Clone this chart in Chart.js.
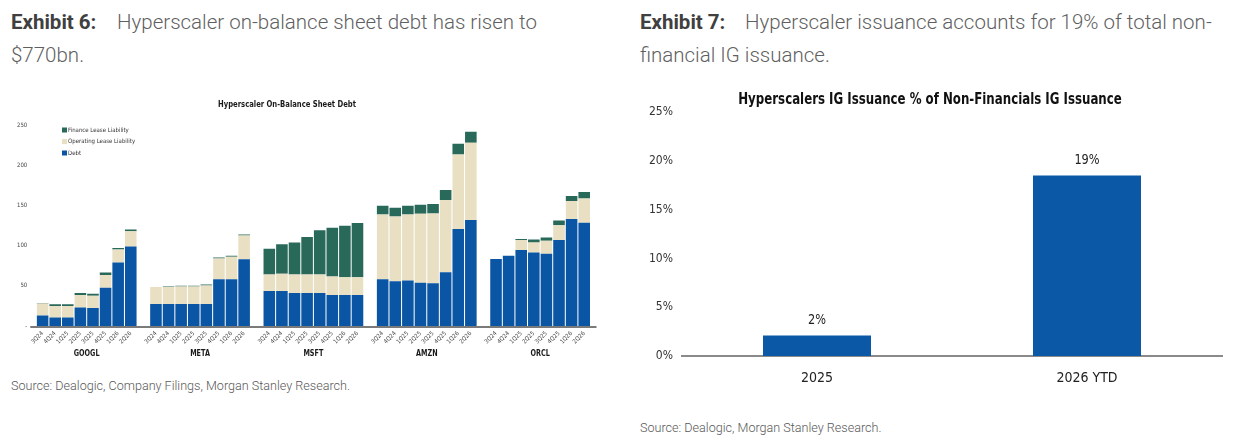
<!DOCTYPE html>
<html>
<head>
<meta charset="utf-8">
<script src="https://cdn.jsdelivr.net/npm/chart.js@4.4.1/dist/chart.umd.min.js"></script>
<style>
  html, body { margin:0; padding:0; background:#fff; width:1242px; height:439px; overflow:hidden; }
  body { position:relative; font-family: Roboto, 'Noto Sans', sans-serif; }
  .hdr { position:absolute; font-size:20.5px; line-height:33px; color:#5f5f5f; font-weight:300; white-space:nowrap; }
  .hdr b { font-weight:700; color:#404040; display:inline-block; }
  .src { position:absolute; font-size:12.6px; color:#595959; font-weight:300; white-space:nowrap; }
  #c1wrap { position:absolute; left:0; top:90px; width:610px; height:280px; }
  #c2wrap { position:absolute; left:640px; top:80px; width:602px; height:320px; }
</style>
</head>
<body>
<div class="hdr" style="left:11px; top:6px;"><b style="width:106px">Exhibit 6:</b>Hyperscaler on-balance sheet debt has risen to<br>$770bn.</div>
<div class="hdr" style="left:640px; top:6px;"><b style="width:105px">Exhibit 7:</b>Hyperscaler issuance accounts for 19% of total non-<br>financial IG issuance.</div>
<div class="src" style="left:11px; top:378px;">Source: Dealogic, Company Filings, Morgan Stanley Research.</div>
<div class="src" style="left:640px; top:420px;">Source: Dealogic, Morgan Stanley Research.</div>
<div id="c1wrap"><canvas id="c1"></canvas></div>
<div id="c2wrap"><canvas id="c2"></canvas></div>
<script>
// ---------- Exhibit 6 data ----------
const quarters = ['3Q24','4Q24','1Q25','2Q25','3Q25','4Q25','1Q26','2Q26'];
const companies = ['GOOGL','META','MSFT','AMZN','ORCL'];
const yTicks1 = [0, 50, 100, 150, 200, 250];

const googlDebt    = [13, 10.5, 10.5, 23, 22.5, 47.5, 79, 99];
const googlOpLease = [15, 14.5, 14.5, 15.5, 15, 16, 16, 19];
const googlFinLease= [0.5, 2, 2, 2.5, 2.5, 3, 2, 2];

const metaDebt     = [27.5, 27.5, 27.5, 27.5, 27.5, 58, 58, 83];
const metaOpLease  = [21, 21, 21.5, 21.5, 23, 26, 28, 29.5];
const metaFinLease = [0, 0.7, 1, 1, 1, 1.3, 1.4, 1.4];

const msftDebt     = [43.5, 43.5, 41, 41, 41, 38.5, 38.5, 38.5];
const msftOpLease  = [20.5, 21.5, 23, 23, 23, 23, 22, 22];
const msftFinLease = [32, 36.7, 39.8, 46.8, 55, 60.7, 64.2, 67.5];

const amznDebt     = [58.3, 55.8, 56.7, 53.8, 53.3, 66.7, 120.8, 131.7];
const amznOpLease  = [80.5, 80.5, 82, 85.8, 86.7, 90, 92.5, 96.3];
const amznFinLease = [10.8, 10.8, 10.9, 11.2, 11.7, 12.3, 13.4, 13.7];

const orclDebt     = [83.3, 87.5, 94.6, 91.3, 90, 107, 133, 128.3];
const orclOpLease  = [0, 0, 12.4, 12.7, 16, 18.4, 22.4, 30.4];
const orclFinLease = [0, 0, 1.3, 3.5, 4, 5.8, 6.3, 8];

// ---------- Exhibit 7 data ----------
const years = ['2025', '2026 YTD'];
const issuanceShare = [2.1, 18.5];
const yTicks2 = [0, 5, 10, 15, 20, 25];

// ---------- build grouped category axis (gap slot between companies) ----------
function joinGroups(arrs) {
  const out = [];
  arrs.forEach((a, i) => { if (i > 0) out.push(null); a.forEach(v => out.push(v)); });
  return out;
}
const labels1 = joinGroups(companies.map(() => quarters)).map(v => v === null ? '' : v);
const debtAll = joinGroups([googlDebt, metaDebt, msftDebt, amznDebt, orclDebt]);
const opAll   = joinGroups([googlOpLease, metaOpLease, msftOpLease, amznOpLease, orclOpLease]);
const finAll  = joinGroups([googlFinLease, metaFinLease, msftFinLease, amznFinLease, orclFinLease]);

const BLUE = '#0b56a4', TAN = '#e9e0c3', GREEN = '#29695a';
const NARROW = "'Liberation Sans Narrow', 'DejaVu Sans Condensed', 'Roboto Condensed', 'DejaVu Sans', sans-serif";

function condensedText(ctx, text, x, y, sx) {
  ctx.save();
  ctx.translate(x, y);
  ctx.scale(sx, 1);
  ctx.fillText(text, 0, 0);
  ctx.restore();
}

const ex6Plugin = {
  id: 'ex6',
  beforeDatasetsDraw(chart) {
    const ctx = chart.ctx, area = chart.chartArea;
    ctx.save();
    ctx.strokeStyle = '#7a7a7a';
    ctx.lineWidth = 2;
    ctx.beginPath();
    ctx.moveTo(area.left - 6, area.bottom + 1);
    ctx.lineTo(area.right + 6, area.bottom + 1);
    ctx.stroke();
    ctx.restore();
  },
  afterDraw(chart) {
    const ctx = chart.ctx, x = chart.scales.x, area = chart.chartArea;
    ctx.save();
    ctx.fillStyle = '#1a1a1a';
    ctx.font = "bold 8px " + NARROW;
    ctx.textAlign = 'center'; ctx.textBaseline = 'middle';
    condensedText(ctx, 'Hyperscaler On-Balance Sheet Debt', 287, 15, 0.95);
    companies.forEach((c, g) => {
      const s = g * 9, e = s + 7;
      const cx = (x.getPixelForValue(s) + x.getPixelForValue(e)) / 2;
      condensedText(ctx, c, cx, area.bottom + 28, 0.9);
    });
    const items = [...chart.data.datasets].reverse();
    ctx.font = "6px " + NARROW;
    ctx.textAlign = 'left';
    items.forEach((ds, i) => {
      const y = 40 + i * 11.5;
      ctx.fillStyle = ds.backgroundColor;
      ctx.fillRect(62, y - 2.5, 5, 5);
      ctx.fillStyle = '#333';
      ctx.fillText(ds.label, 68, y);
    });
    ctx.restore();
  }
};

new Chart(document.getElementById('c1'), {
  type: 'bar',
  data: {
    labels: labels1,
    datasets: [
      { label: 'Debt', data: debtAll, backgroundColor: BLUE },
      { label: 'Operating Lease Liability', data: opAll, backgroundColor: TAN },
      { label: 'Finance Lease Liability', data: finAll, backgroundColor: GREEN }
    ]
  },
  options: {
    responsive: true, maintainAspectRatio: false, animation: false,
    layout: { padding: { top: 35, right: 19.5, left: 0, bottom: 0 } },
    datasets: { bar: { barPercentage: 0.92, categoryPercentage: 1.0 } },
    plugins: { legend: { display: false }, tooltip: { enabled: false }, title: { display: false } },
    scales: {
      x: {
        stacked: true, offset: true,
        grid: { display: false, drawTicks: false },
        border: { display: false },
        ticks: { autoSkip: false, minRotation: 45, maxRotation: 45, padding: 4,
                 font: { size: 6, family: NARROW }, color: '#444' },
        afterFit(s) { s.height = 44; }
      },
      y: {
        stacked: true, min: 0, max: 250,
        afterBuildTicks(s) { s.ticks = yTicks1.map(v => ({ value: v })); },
        grid: { display: false, drawTicks: false },
        border: { display: false },
        ticks: { padding: 9, font: { size: 6, family: NARROW }, color: '#444',
                 callback: v => v === 0 ? '-' : v },
        afterFit(s) { s.width = 36.3; }
      }
    }
  },
  plugins: [ex6Plugin]
});

// ---------- Exhibit 7 chart ----------
const ex7Plugin = {
  id: 'ex7',
  afterDraw(chart) {
    const ctx = chart.ctx;
    ctx.save();
    ctx.fillStyle = '#111';
    ctx.font = "bold 15px " + NARROW;
    ctx.textAlign = 'center'; ctx.textBaseline = 'middle';
    condensedText(ctx, 'Hyperscalers IG Issuance % of Non-Financials IG Issuance', 290, 20, 0.875);
    ctx.font = "14px " + NARROW;
    ctx.fillStyle = '#222';
    const meta = chart.getDatasetMeta(0);
    meta.data.forEach((bar, i) => {
      condensedText(ctx, Math.round(issuanceShare[i]) + '%', bar.x, bar.y - 15, 0.9);
    });
    ctx.restore();
  }
};

new Chart(document.getElementById('c2'), {
  type: 'bar',
  data: {
    labels: years,
    datasets: [{ label: 'Share', data: issuanceShare, backgroundColor: '#0a58a6' }]
  },
  options: {
    responsive: true, maintainAspectRatio: false, animation: false,
    layout: { padding: { top: 32, right: 20, left: 0, bottom: 0 } },
    datasets: { bar: { barPercentage: 0.4, categoryPercentage: 1.0 } },
    plugins: { legend: { display: false }, tooltip: { enabled: false } },
    scales: {
      x: {
        grid: { display: false, drawTicks: false },
        border: { display: true, color: '#8a8a8a', width: 2 },
        ticks: { padding: 14, font: { size: 14, family: NARROW }, color: '#222' },
        afterFit(s) { s.height = 44; }
      },
      y: {
        min: 0, max: 25,
        afterBuildTicks(s) { s.ticks = yTicks2.map(v => ({ value: v })); },
        grid: { display: false, drawTicks: false },
        border: { display: false },
        ticks: { padding: 9, font: { size: 12, family: NARROW }, color: '#333',
                 callback: v => v + '%' },
        afterFit(s) { s.width = 42; }
      }
    }
  },
  plugins: [ex7Plugin]
});
</script>
</body>
</html>
